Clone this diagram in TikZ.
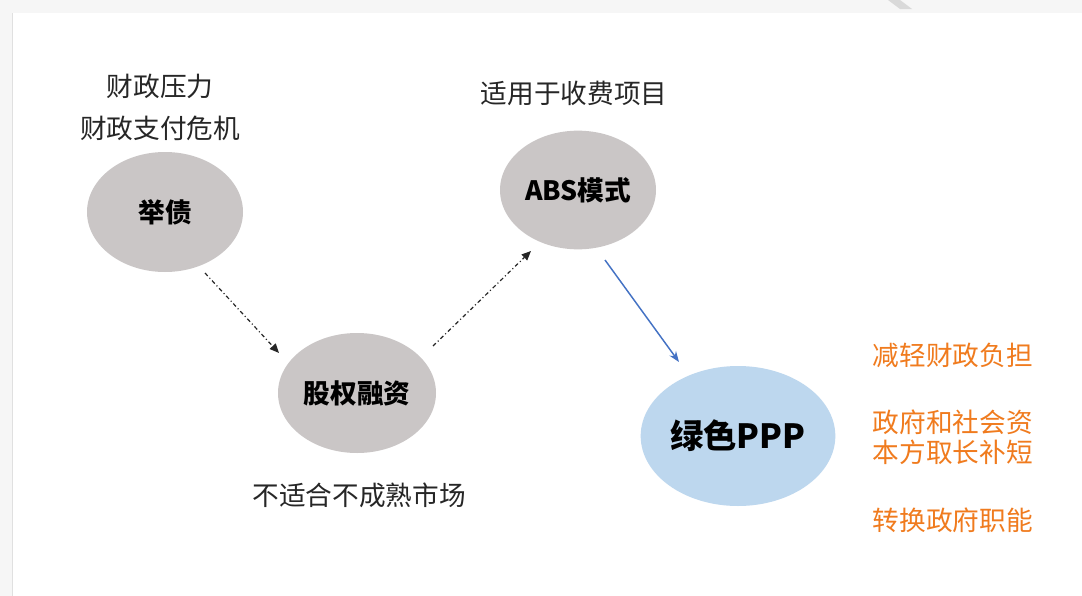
\documentclass[tikz,border=0pt]{standalone}
\usepackage{fontspec}
\setmainfont{Noto Sans CJK SC}
\newfontfamily\cjk{Noto Sans CJK SC}
\usetikzlibrary{arrows.meta,shapes.geometric}
\definecolor{bubgray}{HTML}{CAC6C6}
\definecolor{bubblue}{HTML}{BDD7EE}
\definecolor{arrblue}{HTML}{4472C4}
\definecolor{txtorange}{HTML}{F07B1E}
\definecolor{pagebg}{HTML}{F6F6F6}
\begin{document}
\begin{tikzpicture}[x=0.75pt,y=-0.75pt,
  bubble/.style={ellipse,fill=bubgray,inner sep=0pt,font=\cjk\bfseries\fontsize{20}{24}\selectfont},
  note/.style={font=\cjk\fontsize{20}{24}\selectfont,text=black!85},
  onote/.style={font=\cjk\fontsize{20}{24}\selectfont,text=txtorange,align=left},
  dotarrow/.style={draw=black!85,line width=0.9pt,dash pattern=on 3pt off 2pt on 0.8pt off 2pt,-{Triangle[length=7pt,width=6pt]}},
  bluearrow/.style={draw=arrblue,line width=1.1pt,-{Stealth[length=8pt,width=6pt]}}]
\useasboundingbox (0,0) rectangle (1082,596);
\fill[pagebg] (0,0) rectangle (1082,596);
\fill[black!12] (12,13) rectangle (1082,596);
\fill[white] (13,13) rectangle (1082,596);
\fill[black!15] (888,0) -- (900,0) -- (912,9) -- (900,9) -- cycle;
% bubbles
\node[bubble,minimum width=117pt,minimum height=90pt] (a) at (165,212) {举债};
\node[bubble,minimum width=118.5pt,minimum height=90pt] (b) at (357,393) {股权融资};
\node[bubble,minimum width=117pt,minimum height=89pt] (c) at (578,190) {ABS模式};
\node[bubble,fill=bubblue,minimum width=146pt,minimum height=105pt] (d) at (738,436) {};
\node[font=\cjk\bfseries\fontsize{25}{30}\selectfont] (dl) at (d.center) {绿色PPP};
% notes
\node[note] (n1) at (160,86) {财政压力};
\node[note] (n2) at (160,128) {财政支付危机};
\node[note] (n3) at (574,93) {适用于收费项目};
\node[note] (n4) at (359,495) {不适合不成熟市场};
\node[onote,anchor=west] (o1) at (868,355) {减轻财政负担};
\node[onote,anchor=west] (o2) at (868,437) {政府和社会资\\[-1.5pt]本方取长补短};
\node[onote,anchor=west] (o3) at (868,520) {转换政府职能};
% arrows
\coordinate (a1) at (205,273);
\coordinate (a2) at (279,353);
\coordinate (b1) at (433,346);
\coordinate (b2) at (531,251);
\coordinate (c1) at (605,260);
\coordinate (c2) at (679,362);
\draw[dotarrow] (a1) -- (a2);
\draw[dotarrow] (b1) -- (b2);
\draw[bluearrow] (c1) -- (c2);
\end{tikzpicture}
\end{document}
